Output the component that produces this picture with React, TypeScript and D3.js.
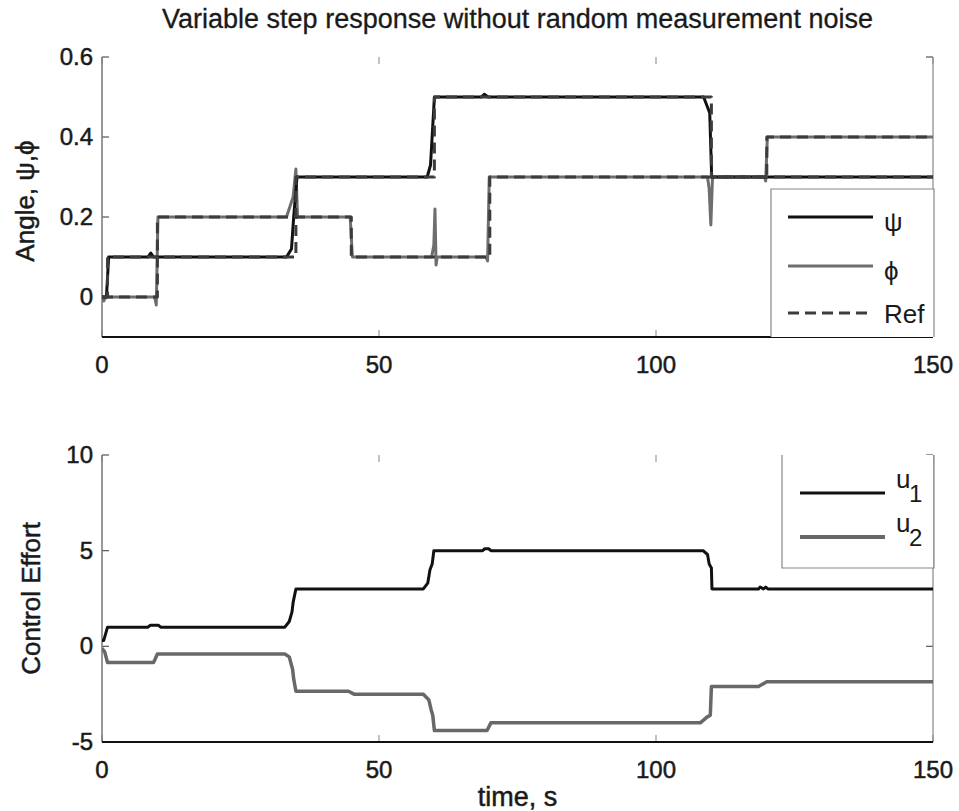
import React from "react";
import * as d3 from "d3";

// ---------- Data ----------
const xTicks = [0, 50, 100, 150];
const yTicksTop = [0, 0.2, 0.4, 0.6];
const yTickLabelsTop = ["0", "0.2", "0.4", "0.6"];
const yTicksBot = [-5, 0, 5, 10];
const yTickLabelsBot = ["-5", "0", "5", "10"];

// psi response
const psiT = [0, 0.8, 1.2, 8.3, 8.8, 9.3, 33.3, 34.2, 34.6, 35.2, 58.7, 59.3, 60, 68.5, 69, 69.7, 108.6, 109.7, 110.05, 150];
const psiV = [0, 0, 0.1, 0.1, 0.11, 0.1, 0.1, 0.12, 0.2, 0.3, 0.3, 0.33, 0.5, 0.5, 0.507, 0.5, 0.5, 0.46, 0.3, 0.3];
// phi response
const phiT = [0, 0.3, 0.7, 9.5, 9.8, 10.1, 33.3, 34.5, 35, 35.3, 44.8, 45.2, 59.5, 59.9, 60.1, 60.3, 60.5, 69.3, 69.6, 69.9, 109.3, 109.6, 109.9, 110.2, 119.6, 119.8, 120.1, 150];
const phiV = [0, -0.01, 0, 0, -0.02, 0.2, 0.2, 0.25, 0.32, 0.2, 0.2, 0.1, 0.1, 0.13, 0.22, 0.08, 0.1, 0.1, 0.09, 0.3, 0.3, 0.27, 0.18, 0.3, 0.3, 0.29, 0.4, 0.4];
// references (step after)
const refPsiT = [0, 1, 35, 60, 110, 150];
const refPsiV = [0, 0.1, 0.3, 0.5, 0.3, 0.3];
const refPhiT = [0, 10, 45, 70, 120, 150];
const refPhiV = [0, 0.2, 0.1, 0.3, 0.4, 0.4];

// control efforts
const u1T = [0, 0.3, 0.6, 1.0, 8.3, 8.7, 10.2, 10.6, 33, 33.8, 34.3, 34.5, 35, 58, 58.8, 59.2, 59.6, 59.9, 68.7, 69.1, 69.8, 70.2, 108.5, 109.3, 109.6, 110, 110.1, 118.5, 118.8, 119.4, 119.8, 120.2, 150];
const u1V = [0.3, 0.3, 0.6, 1.0, 1.0, 1.1, 1.1, 1.0, 1.0, 1.3, 1.8, 2.3, 3.0, 3.0, 3.3, 4.0, 4.3, 5.0, 5.0, 5.1, 5.1, 5.0, 5.0, 4.8, 4.3, 4.1, 3.0, 3.0, 3.1, 3.0, 3.1, 3.0, 3.0];
const u2T = [0, 0.5, 1.0, 9.3, 10, 33, 33.8, 34.4, 34.6, 35, 44.5, 45.5, 58, 59, 59.4, 59.7, 60, 69.5, 70.2, 108, 109.2, 109.8, 110, 118.5, 120, 150];
const u2V = [-0.1, -0.3, -0.85, -0.85, -0.4, -0.4, -0.55, -1.2, -1.7, -2.35, -2.35, -2.5, -2.5, -2.8, -3.3, -3.6, -4.4, -4.4, -4.0, -4.0, -3.7, -3.6, -2.1, -2.1, -1.85, -1.85];

const TITLE = "Variable step response without random measurement noise";

// ---------- Layout ----------
const FONT = "Arial, 'Liberation Sans', Helvetica, sans-serif";
const TXT = { fontFamily: FONT, fill: "#1a1a1a", stroke: "#1a1a1a", strokeWidth: 0.5 };
const xL = 102, xR = 933;
const topY0 = 57, topY1 = 337;
const botY0 = 455, botY1 = 742;

const xScaleTop = d3.scaleLinear().domain([0, 150]).range([xL, xR]);
const xScaleBot = d3.scaleLinear().domain([0, 150]).range([xL, xR]);
const yScaleTop = d3.scaleLinear().domain([-0.1, 0.6]).range([topY1, topY0]);
const yScaleBot = d3.scaleLinear().domain([-5, 10]).range([botY1, botY0]);

type Pt = [number, number];
const zipPts = (t: number[], v: number[]): Pt[] => t.map((x, i) => [x, v[i]]);

function linePath(xs: d3.ScaleLinear<number, number>, ys: d3.ScaleLinear<number, number>, pts: Pt[], step = false) {
  const gen = d3.line<Pt>().x((d) => xs(d[0])).y((d) => ys(d[1]));
  if (step) gen.curve(d3.curveStepAfter);
  return gen(pts) || "";
}

function Axes({ xs, ys, y0, y1, yTicks, yLabels, tickLen = 7 }: any) {
  return (
    <g>
      {xTicks.map((t) => (
        <g key={"xt" + t}>
          <line x1={xs(t)} x2={xs(t)} y1={y1} y2={y1 - tickLen} stroke="#999" strokeWidth={1.2} />
          <line x1={xs(t)} x2={xs(t)} y1={y0} y2={y0 + tickLen} stroke="#999" strokeWidth={1.2} />
        </g>
      ))}
      {yTicks.map((t: number) => (
        <g key={"yt" + t}>
          <line x1={xL} x2={xL + tickLen} y1={ys(t)} y2={ys(t)} stroke="#555" strokeWidth={1.2} />
          <line x1={xR} x2={xR - tickLen} y1={ys(t)} y2={ys(t)} stroke="#555" strokeWidth={1.2} />
        </g>
      ))}
      <line x1={xL} x2={xL} y1={y0} y2={y1} stroke="#777" strokeWidth={1.5} />
      <line x1={xR} x2={xR} y1={y0} y2={y1} stroke="#888" strokeWidth={1.2} />
      <line x1={xL} x2={xR} y1={y1} y2={y1} stroke="#111" strokeWidth={2} />
      {xTicks.map((t) => (
        <text key={"xl" + t} x={xs(t)} y={y1 + 36} textAnchor="middle" fontSize={24} {...TXT}>
          {t}
        </text>
      ))}
      {yTicks.map((t: number, i: number) => (
        <text key={"yl" + t} x={xL - 9} y={ys(t) + 8} textAnchor="end" fontSize={24} {...TXT}>
          {yLabels[i]}
        </text>
      ))}
    </g>
  );
}

export default function App() {
  const psiPts = zipPts(psiT, psiV);
  const phiPts = zipPts(phiT, phiV);
  const refPsiPts = zipPts(refPsiT, refPsiV);
  const refPhiPts = zipPts(refPhiT, refPhiV);
  const u1Pts = zipPts(u1T, u1V);
  const u2Pts = zipPts(u2T, u2V);

  return (
    <svg width={959} height={811} style={{ position: "absolute", left: 0, top: 0, background: "#fff" }}>
      <rect x={0} y={0} width={959} height={811} fill="#fff" />
      <text x={(xL + xR) / 2} y={28} textAnchor="middle" fontSize={27} {...TXT} strokeWidth={0.3}>
        {TITLE}
      </text>

      <defs>
        <clipPath id="clipTop">
          <rect x={xL} y={topY0 - 5} width={xR - xL} height={topY1 - topY0 + 5} />
        </clipPath>
        <clipPath id="clipBot">
          <rect x={xL} y={botY0} width={xR - xL} height={botY1 - botY0} />
        </clipPath>
      </defs>

      {/* ---------- Top plot ---------- */}
      <Axes xs={xScaleTop} ys={yScaleTop} y0={topY0} y1={topY1} yTicks={yTicksTop} yLabels={yTickLabelsTop} />
      <g clipPath="url(#clipTop)" fill="none" strokeLinejoin="round">
        <path d={linePath(xScaleTop, yScaleTop, phiPts)} stroke="#6e6e6e" strokeWidth={3} />
        <path d={linePath(xScaleTop, yScaleTop, psiPts)} stroke="#111" strokeWidth={3} />
        <path d={linePath(xScaleTop, yScaleTop, refPsiPts, true)} stroke="#3c3c3c" strokeWidth={3} strokeDasharray="11,6" />
        <path d={linePath(xScaleTop, yScaleTop, refPhiPts, true)} stroke="#3c3c3c" strokeWidth={3} strokeDasharray="11,6" />
      </g>
      <g>
        <rect x={771} y={189} width={163} height={148} fill="#fff" />
        <path d="M771,337 V189 H934 V337" fill="none" stroke="#888" strokeWidth={1.2} />
        <line x1={788} x2={873} y1={217} y2={217} stroke="#111" strokeWidth={3} />
        <line x1={788} x2={873} y1={266} y2={266} stroke="#6e6e6e" strokeWidth={3} />
        <line x1={788} x2={873} y1={313} y2={313} stroke="#3c3c3c" strokeWidth={3} strokeDasharray="11,6" />
        <text x={884} y={231} fontSize={26} {...TXT} strokeWidth={0}>ψ</text>
        <text x={884} y={280} fontSize={26} {...TXT} strokeWidth={0}>ϕ</text>
        <text x={884} y={323} fontSize={26} {...TXT} strokeWidth={0}>Ref</text>
      </g>
      <text transform={`translate(34,${(topY0 + topY1) / 2 + 4}) rotate(-90)`} textAnchor="middle" fontSize={26} {...TXT}>
        Angle, ψ,ϕ
      </text>

      {/* ---------- Bottom plot ---------- */}
      <Axes xs={xScaleBot} ys={yScaleBot} y0={botY0} y1={botY1} yTicks={yTicksBot} yLabels={yTickLabelsBot} />
      <g clipPath="url(#clipBot)" fill="none" strokeLinejoin="round">
        <path d={linePath(xScaleBot, yScaleBot, u1Pts)} stroke="#111" strokeWidth={3} />
        <path d={linePath(xScaleBot, yScaleBot, u2Pts)} stroke="#686868" strokeWidth={3.5} />
      </g>
      <g>
        <rect x={782} y={455} width={151} height={113} fill="#fff" />
        <path d="M782,455 V568 H934 V455" fill="none" stroke="#888" strokeWidth={1.2} />
        <line x1={800} x2={885} y1={493} y2={493} stroke="#111" strokeWidth={3} />
        <line x1={800} x2={885} y1={537} y2={537} stroke="#686868" strokeWidth={4} />
        <text x={896} y={488} fontSize={26} {...TXT} strokeWidth={0}>
          u<tspan x={909} dy={14} fontSize={24}>1</tspan>
        </text>
        <text x={896} y={532} fontSize={26} {...TXT} strokeWidth={0}>
          u<tspan x={909} dy={14} fontSize={24}>2</tspan>
        </text>
      </g>
      <text transform={`translate(40,${(botY0 + botY1) / 2}) rotate(-90)`} textAnchor="middle" fontSize={26} {...TXT}>
        Control Effort
      </text>
      <text x={(xL + xR) / 2} y={806} textAnchor="middle" fontSize={27} {...TXT}>
        time, s
      </text>
    </svg>
  );
}
